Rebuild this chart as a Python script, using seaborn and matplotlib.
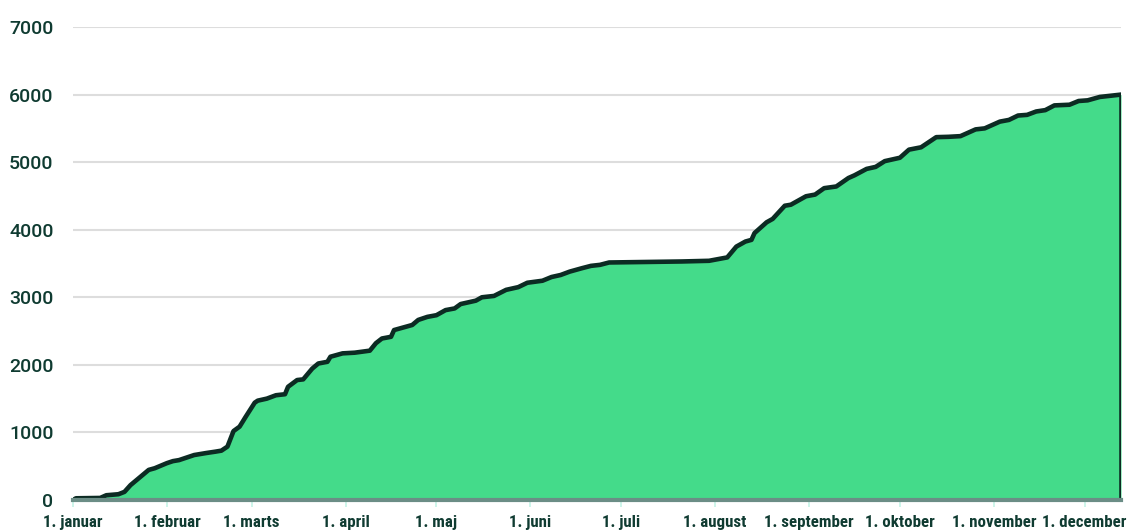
import pandas as pd
import seaborn as sns
import matplotlib.pyplot as plt

# Cumulative count over the year
dates = ['2023-01-01', '2023-01-02', '2023-01-10', '2023-01-12', '2023-01-16', '2023-01-18',
         '2023-01-20', '2023-01-22', '2023-01-24', '2023-01-26', '2023-01-28', '2023-02-01',
         '2023-02-03', '2023-02-05', '2023-02-08', '2023-02-10', '2023-02-14', '2023-02-17',
         '2023-02-19', '2023-02-21', '2023-02-23', '2023-02-25', '2023-02-27', '2023-03-02',
         '2023-03-03', '2023-03-06', '2023-03-09', '2023-03-12', '2023-03-13', '2023-03-16',
         '2023-03-18', '2023-03-21', '2023-03-23', '2023-03-26', '2023-03-27', '2023-03-31',
         '2023-04-04', '2023-04-09', '2023-04-11', '2023-04-13', '2023-04-16', '2023-04-17',
         '2023-04-21', '2023-04-23', '2023-04-25', '2023-04-28', '2023-05-01', '2023-05-04',
         '2023-05-07', '2023-05-09', '2023-05-14', '2023-05-16', '2023-05-20', '2023-05-24',
         '2023-05-28', '2023-05-31', '2023-06-05', '2023-06-08', '2023-06-11', '2023-06-14',
         '2023-06-18', '2023-06-21', '2023-06-24', '2023-06-27', '2023-07-21', '2023-07-30',
         '2023-08-05', '2023-08-08', '2023-08-11', '2023-08-13', '2023-08-14', '2023-08-18',
         '2023-08-20', '2023-08-24', '2023-08-26', '2023-08-31', '2023-09-03', '2023-09-06',
         '2023-09-10', '2023-09-14', '2023-09-16', '2023-09-20', '2023-09-23', '2023-09-26',
         '2023-10-01', '2023-10-04', '2023-10-08', '2023-10-13', '2023-10-17', '2023-10-21',
         '2023-10-26', '2023-10-29', '2023-11-03', '2023-11-06', '2023-11-09', '2023-11-12',
         '2023-11-15', '2023-11-18', '2023-11-21', '2023-11-26', '2023-11-29', '2023-12-02',
         '2023-12-06', '2023-12-13']
counts = [0, 25, 30, 70, 85, 120,
          220, 295, 370, 445, 470, 545,
          575, 590, 635, 665, 695, 715,
          730, 790, 1020, 1085, 1230, 1440,
          1470, 1500, 1550, 1565, 1675, 1775,
          1785, 1945, 2020, 2045, 2120, 2170,
          2180, 2210, 2320, 2390, 2415, 2515,
          2565, 2590, 2665, 2710, 2735, 2810,
          2835, 2900, 2950, 3000, 3020, 3110,
          3150, 3215, 3245, 3300, 3330, 3380,
          3430, 3465, 3480, 3515, 3530, 3540,
          3590, 3750, 3825, 3850, 3950, 4110,
          4160, 4355, 4370, 4495, 4520, 4615,
          4640, 4765, 4805, 4900, 4930, 5015,
          5065, 5185, 5220, 5370, 5375, 5385,
          5485, 5500, 5600, 5625, 5690, 5700,
          5750, 5770, 5840, 5850, 5905, 5915,
          5965, 6000]

month_ticks = ['2023-01-01', '2023-02-01', '2023-03-01', '2023-04-01', '2023-05-01', '2023-06-01',
               '2023-07-01', '2023-08-01', '2023-09-01', '2023-10-01', '2023-11-01', '2023-12-01']
month_labels = ['1. januar', '1. februar', '1. marts', '1. april', '1. maj', '1. juni',
                '1. juli', '1. august', '1. september', '1. oktober', '1. november', '1. december']
y_ticks = [0, 1000, 2000, 3000, 4000, 5000, 6000, 7000]

df = pd.DataFrame({'date': pd.to_datetime(dates), 'count': counts})

sns.set_theme(style='white')
plt.rcParams['font.family'] = ['Roboto', 'DejaVu Sans']

fill_col = '#44db8a'
line_col = '#0c2b23'
text_col = '#0f3b31'

fig = plt.figure(figsize=(11.28, 5.32), dpi=100)
ax = fig.add_axes([0.0647, 0.0602, 0.9291, 0.889])

ax.fill_between(df['date'], df['count'], 0, color=fill_col, lw=0, zorder=2)
sns.lineplot(data=df, x='date', y='count', ax=ax, color=line_col, lw=3.3,
             solid_joinstyle='round', solid_capstyle='round', zorder=3)
# closing edge on the right
ax.plot([df['date'].iloc[-1]] * 2, [0, df['count'].iloc[-1]], color=line_col, lw=3.3, zorder=3)

ax.set_xlim(df['date'].iloc[0], df['date'].iloc[-1])
ax.set_ylim(0, 7000)
ax.set_xlabel('')
ax.set_ylabel('')

ax.set_yticks(y_ticks)
ax.set_yticklabels([str(v) for v in y_ticks], fontsize=14, color=text_col, fontweight='medium')
ax.yaxis.grid(True, color='#dddddd', lw=1.5, zorder=1)
ax.tick_params(axis='y', length=0, pad=14)

ax.set_xticks(pd.to_datetime(month_ticks))
ax.set_xticklabels(month_labels, fontsize=12.2, color=text_col, fontweight='bold',
                   fontstretch='condensed',
                   family=['Roboto Condensed', 'Liberation Sans Narrow', 'DejaVu Sans'])
ax.tick_params(axis='x', length=5, width=1.2, color='#c5f3e6', pad=6, direction='out')
ax.tick_params(axis='x', bottom=True)

for s in ['top', 'right', 'left']:
    ax.spines[s].set_visible(False)
ax.spines['bottom'].set_color('#6b8d86')
ax.spines['bottom'].set_linewidth(3)
ax.spines['bottom'].set_zorder(4)

fig.savefig('out.png', dpi=100)
